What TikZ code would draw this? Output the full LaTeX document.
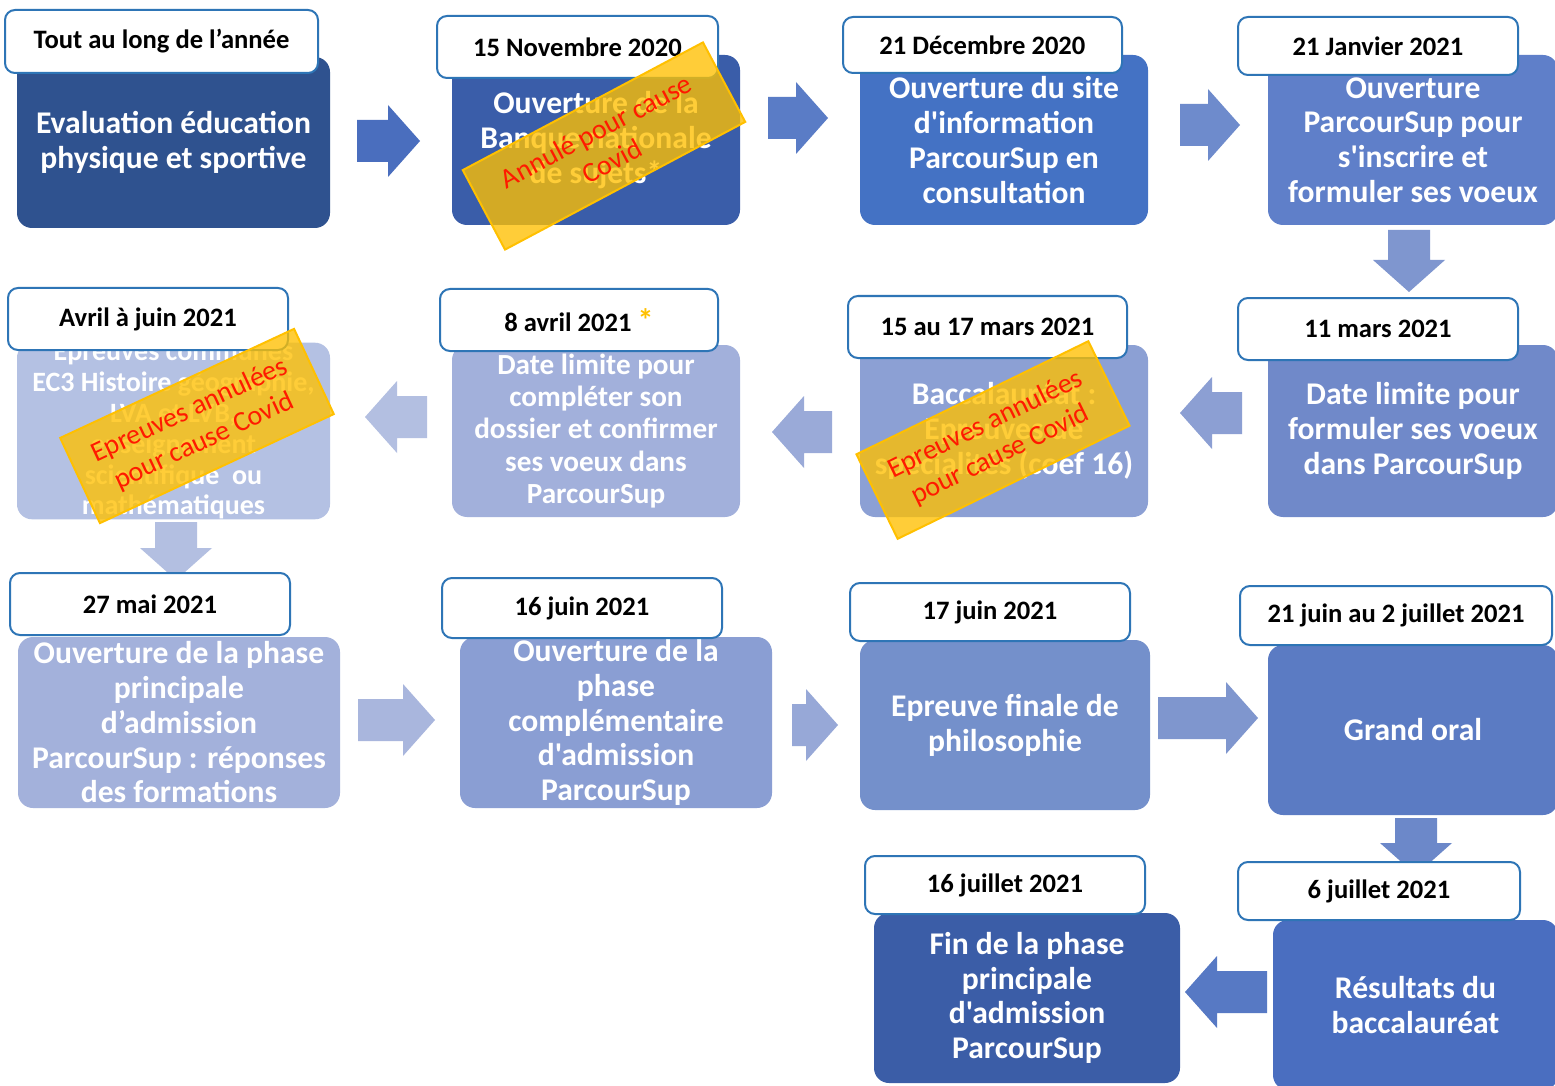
\documentclass[tikz,border=0pt]{standalone}
\usepackage{fontspec}
\setmainfont{Carlito}[Ligatures=TeXOff]
\usetikzlibrary{calc}

% Colori
\definecolor{bloccoA}{HTML}{2F528F}
\definecolor{bloccoB}{HTML}{3A5DA9}
\definecolor{bloccoC}{HTML}{4472C4}
\definecolor{bloccoD}{HTML}{5F7FC9}
\definecolor{bloccoE}{HTML}{7089C9}
\definecolor{bloccoF}{HTML}{8CA0D4}
\definecolor{bloccoG}{HTML}{A2B0DB}
\definecolor{bloccoH}{HTML}{B4C1E3}
\definecolor{bloccoI}{HTML}{A3B1DB}
\definecolor{bloccoJ}{HTML}{8A9ED3}
\definecolor{bloccoK}{HTML}{7490CB}
\definecolor{bloccoL}{HTML}{5B7BC3}
\definecolor{bloccoM}{HTML}{4A6EC0}
\definecolor{bloccoN}{HTML}{3B5DA7}
\definecolor{frA}{HTML}{4A6EBE}
\definecolor{frB}{HTML}{5A7CC6}
\definecolor{frC}{HTML}{6E8BCC}
\definecolor{frD}{HTML}{7F96CF}
\definecolor{frE}{HTML}{8C9FD3}
\definecolor{frF}{HTML}{9AAAD8}
\definecolor{frG}{HTML}{B3BFE1}
\definecolor{frI}{HTML}{A9B6DD}
\definecolor{frJ}{HTML}{97A8D7}
\definecolor{frK}{HTML}{7F96CE}
\definecolor{frL}{HTML}{6C88C9}
\definecolor{frM}{HTML}{5779C4}
\definecolor{bordo}{HTML}{2E75B6}
\definecolor{giallo}{HTML}{FFC000}
\definecolor{rosso}{HTML}{FF1A00}

\begin{document}
\begin{tikzpicture}[x=0.5pt, y=-0.5pt,
  blocco/.style={rounded corners=7.5pt, inner sep=0pt, align=center, text=white},
  etichetta/.style={draw=bordo, line width=1pt, fill=white, rounded corners=5pt,
    inner sep=0pt, font=\fontsize{13.3}{16}\selectfont\bfseries},
  timbro/.style={draw=giallo, line width=1pt, fill=giallo, fill opacity=0.78,
    text opacity=1, text=rosso, align=center, inner sep=0pt,
    font=\fontsize{14}{17}\selectfont}]

% Sfondo
\fill[white] (0,0) rectangle (1555,1086);
\useasboundingbox (0,0) rectangle (1555,1086);

% Parametri frecce
\def\semiasta{10.5pt}
\def\semitesta{18pt}
\def\lungtesta{16pt}

% Blocchi colorati
\foreach \nome/\xa/\ya/\xb/\yb/\col/\corpo/\testo in {
    A/17/57/330/228/bloccoA/15.8/{Evaluation éducation\\physique et sportive},
    B/452/55/740/225/bloccoB/15.8/{Ouverture de la\\Banque nationale\\de sujets*},
    C/860/55/1148/225/bloccoC/15.8/{Ouverture du site\\d'information\\ParcourSup en\\consultation},
    D/1268/55/1558/225/bloccoD/15.8/{Ouverture\\ParcourSup pour\\s'inscrire et\\formuler ses voeux},
    E/1268/345/1558/517/bloccoE/15.8/{Date limite pour\\formuler ses voeux\\dans ParcourSup},
    F/860/345/1148/517/bloccoF/15.8/{Baccalauréat :\\Epreuves de\\spécialités (coef 16)},
    G/452/345/740/517/bloccoG/14.6/{Date limite pour\\compléter son\\dossier et confirmer\\ses voeux dans\\ParcourSup},
    H/17/345/330/517/bloccoH/14/{Epreuves communes\\EC3 Histoire géographie,\\LVA et LVB,\\enseignement\\scientifique~ ou\\mathématiques},
    I/18/637/340/808/bloccoI/15.8/{Ouverture de la phase\\principale\\d’admission\\ParcourSup : réponses\\des formations},
    J/460/637/772/808/bloccoJ/15.8/{Ouverture de la\\phase\\complémentaire\\d'admission\\ParcourSup},
    K/860/640/1150/810/bloccoK/15.8/{Epreuve finale de\\philosophie},
    L/1268/645/1558/815/bloccoL/15.8/{Grand oral},
    M/1273/920/1558/1090/bloccoM/15.8/{Résultats du\\baccalauréat},
    N/874/913/1180/1083/bloccoN/15.8/{Fin de la phase\\principale\\d'admission\\ParcourSup}} {
    \pgfmathsetmacro\largh{(\xb-\xa)/2}
    \pgfmathsetmacro\altez{(\yb-\ya)/2}
    \pgfmathsetmacro\interl{\corpo*1.1}
    \node[blocco, fill=\col, minimum width=\largh pt, minimum height=\altez pt,
        font=\fontsize{\corpo}{\interl}\selectfont\bfseries]
        (\nome) at ({(\xa+\xb)/2},{(\ya+\yb)/2}) {\testo};
}

% Frecce a blocco tra i passi
\foreach \fr/\xa/\ya/\xb/\yb/\col in {
    1/357/141/420/141/frA, 2/768/118/828/118/frB, 3/1180/125/1240/125/frC,
    4/1409/230/1409/292/frD, 5/1242/413/1180/413/frE, 6/832/432/772/432/frF,
    7/427/417/365/417/frG, 8/176/522/176/580/frG, 9/358/720/435/720/frI,
    10/792/725/838/725/frJ, 11/1158/718/1258/718/frK, 12/1416/818/1416/875/frL,
    13/1267/992/1185/992/frM} {
    \coordinate (coda\fr) at (\xa,\ya);
    \coordinate (punta\fr) at (\xb,\yb);
    \coordinate (base\fr) at ($(punta\fr)!\lungtesta!(coda\fr)$);
    \fill[\col] ($(coda\fr)!\semiasta!90:(punta\fr)$) -- ($(base\fr)!\semiasta!-90:(coda\fr)$)
        -- ($(base\fr)!\semitesta!-90:(coda\fr)$) -- (punta\fr)
        -- ($(base\fr)!\semitesta!90:(coda\fr)$) -- ($(base\fr)!\semiasta!90:(coda\fr)$)
        -- ($(coda\fr)!\semiasta!-90:(punta\fr)$) -- cycle;
}

% Etichette con le date
\foreach \nome/\xa/\ya/\xb/\yb/\testo in {
    dA/5/10/318/73/{Tout au long de l’année},
    dB/437/16/718/78/{15 Novembre 2020},
    dC/843/17/1122/73/{21 Décembre 2020},
    dD/1238/17/1518/75/{21 Janvier 2021},
    dE/1238/298/1518/360/{11 mars 2021},
    dF/848/296/1127/358/{15 au 17 mars 2021},
    dG/440/289/718/351/{8 avril 2021 \textcolor{giallo}{\fontsize{16}{16}\selectfont*}},
    dH/8/288/288/350/{Avril à juin 2021},
    dI/10/573/290/635/{27 mai 2021},
    dJ/442/578/722/638/{16 juin 2021},
    dK/850/583/1130/641/{17 juin 2021},
    dL/1240/586/1552/645/{21 juin au 2 juillet 2021},
    dM/1238/862/1520/920/{6 juillet 2021},
    dN/865/856/1145/914/{16 juillet 2021}} {
    \pgfmathsetmacro\largh{(\xb-\xa)/2}
    \pgfmathsetmacro\altez{(\yb-\ya)/2}
    \node[etichetta, minimum width=\largh pt, minimum height=\altez pt]
        (\nome) at ({(\xa+\xb)/2},{(\ya+\yb)/2}) {\testo};
}

% Timbri "annulé"
\node[timbro, minimum width=136pt, minimum height=45pt, rotate=28] (annulla1) at (604,146) {Annulé pour cause\\Covid};
\node[timbro, minimum width=129pt, minimum height=47pt, rotate=25] (annulla2) at (197,426) {Epreuves annulées\\pour cause Covid};
\node[timbro, minimum width=129pt, minimum height=47pt, rotate=26] (annulla3) at (993,440) {Epreuves annulées\\pour cause Covid};

\end{tikzpicture}
\end{document}
